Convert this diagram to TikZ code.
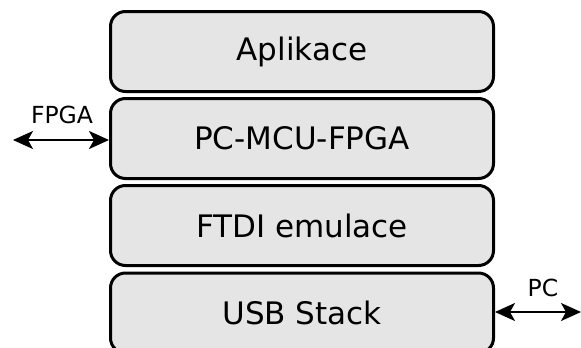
\documentclass[tikz,border=0pt]{standalone}
\usepackage{fontspec}
\setmainfont{DejaVu Sans}
\usetikzlibrary{arrows.meta}
\definecolor{boxgray}{HTML}{E5E5E5}
\tikzset{
  layer/.style={draw=black, line width=3pt, fill=boxgray, rounded corners=15pt,
    minimum width=383pt, minimum height=80pt, inner sep=0pt, font=\fontsize{31}{36}\selectfont},
  biarrow/.style={line width=2pt, {Stealth[length=20pt,width=18pt,inset=5pt]}-{Stealth[length=20pt,width=18pt,inset=5pt]}},
  lbl/.style={font=\fontsize{23.5}{28}\selectfont, inner sep=0pt}
}
\begin{document}
\begin{tikzpicture}[x=1pt,y=-1pt]
\useasboundingbox (0,0) rectangle (581,348);
\node[layer] (app) at (302,51.5) {Aplikace};
\node[layer] (pmf) at (302,138.5) {PC-MCU-FPGA};
\node[layer] (ftdi) at (302,225.5) {FTDI emulace};
\node[layer] (usb) at (302,313) {USB Stack};
\coordinate (fpgaend) at (13,140);
\coordinate (pcend) at (581,312);
\draw[biarrow] (fpgaend) -- (pmf.west |- fpgaend);
\draw[biarrow] (usb.east |- pcend) -- (pcend);
\node[lbl] (fpga) at (62,115) {FPGA};
\node[lbl] (pc) at (543,288) {PC};
\end{tikzpicture}
\end{document}
